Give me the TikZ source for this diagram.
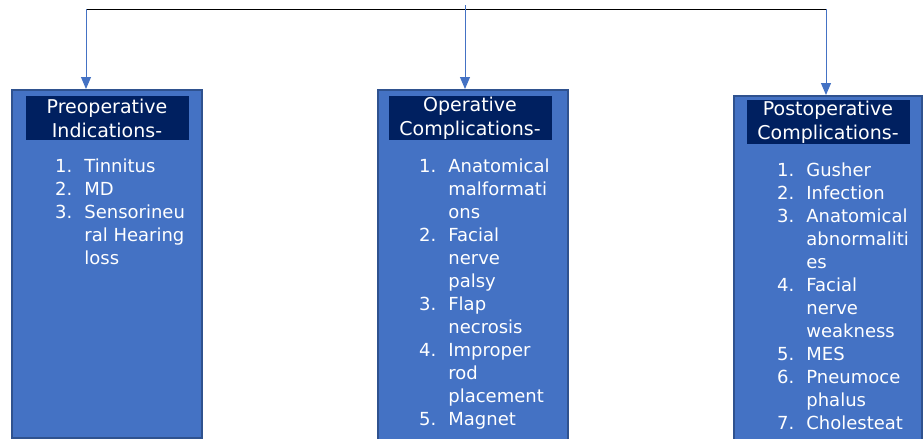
\documentclass[tikz,border=0pt]{standalone}
\usepackage{fontspec}
\newfontfamily\boxfont{DejaVu Sans}
\usetikzlibrary{arrows.meta,positioning}
\definecolor{panelblue}{HTML}{4472C4}
\definecolor{paneledge}{HTML}{2F528F}
\definecolor{headnavy}{HTML}{002060}

\begin{document}
\begin{tikzpicture}
		[x=1pt,y=-1pt,
		panel/.style ={rectangle, draw=paneledge, line width=1.5pt, fill=panelblue, minimum width=190pt, anchor=north, inner sep=0pt},
		head/.style ={rectangle, fill=headnavy, text=white, minimum width=163pt, minimum height=44pt, align=center, anchor=north, inner sep=0pt, font=\boxfont\fontsize{19}{23.5}\selectfont},
		items/.style ={text=white, anchor=base west, inner sep=0pt, font=\boxfont\fontsize{18}{23}\selectfont},
		line/.style ={draw=panelblue, line width=1pt, -{Triangle[width=10pt,length=12pt]}},
		]
		\useasboundingbox (0,0) rectangle (924,439);

		% the three panels
		\node[panel, minimum height=348pt] (pre) at (107,89) {};
		\node[panel, minimum height=352pt] (op) at (473,89) {};
		\node[panel, minimum height=352pt, minimum width=188pt] (post) at (828,95) {};

		% headings
		\node[head] (preh) at ([yshift=-7pt]pre.north) {Preoperative\\Indications-};
		\node[head] (oph) at ([xshift=-3pt,yshift=-7pt]op.north) {Operative\\Complications-};
		\node[head] (posth) at ([yshift=-5pt]post.north) {Postoperative\\Complications-};

		% lists
		\node[items] (prel) at (55,172) {\begin{tabular}[t]{@{}l@{\hspace{12pt}}l@{}}
			1. & Tinnitus\\
			2. & MD\\
			3. & Sensorineu\\
			   & ral Hearing\\
			   & loss
		\end{tabular}};
		\node[items] (opl) at (419,172) {\begin{tabular}[t]{@{}l@{\hspace{12pt}}l@{}}
			1. & Anatomical\\
			   & malformati\\
			   & ons\\
			2. & Facial\\
			   & nerve\\
			   & palsy\\
			3. & Flap\\
			   & necrosis\\
			4. & Improper\\
			   & rod\\
			   & placement\\
			5. & Magnet
		\end{tabular}};
		\node[items] (postl) at (777,176) {\begin{tabular}[t]{@{}l@{\hspace{12pt}}l@{}}
			1. & Gusher\\
			2. & Infection\\
			3. & Anatomical\\
			   & abnormaliti\\
			   & es\\
			4. & Facial\\
			   & nerve\\
			   & weakness\\
			5. & MES\\
			6. & Pneumoce\\
			   & phalus\\
			7. & Cholesteat
		\end{tabular}};

		% connectors
		\coordinate (tl) at (86,9);
		\coordinate (tm) at (465,5);
		\coordinate (tr) at (826,9);
		\draw[black, line width=1pt] (tl) -- (tr);
		\path[line] (tl) -- (tl |- pre.north);
		\path[line] (tm) -- (tm |- op.north);
		\path[line] (tr) -- (tr |- post.north);

	\end{tikzpicture}
\end{document}
